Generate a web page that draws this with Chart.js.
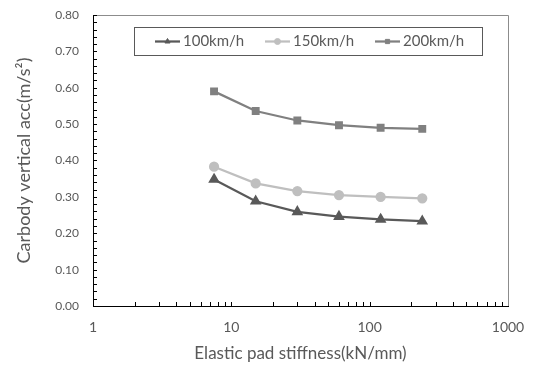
<!DOCTYPE html>
<html>
<head>
<meta charset="utf-8">
<script src="https://cdn.jsdelivr.net/npm/chart.js@4/dist/chart.umd.min.js"></script>
<style>
html,body{margin:0;padding:0;background:#fff;}
#wrap{width:535px;height:367px;position:relative;}
</style>
</head>
<body>
<div id="wrap"><canvas id="c" width="535" height="367"></canvas></div>
<script>
const stiffness = [7.5, 15, 30, 60, 120, 240];
const seriesNames = ['100km/h', '150km/h', '200km/h'];
const acc100 = [0.348, 0.288, 0.259, 0.246, 0.238, 0.233];
const acc150 = [0.383, 0.337, 0.316, 0.305, 0.300, 0.296];
const acc200 = [0.590, 0.536, 0.510, 0.497, 0.490, 0.487];
const xTickLabels = [1, 10, 100, 1000];
const yMin = 0, yMax = 0.8, yStep = 0.1, yMinorStep = 0.02;
const xMinorTicks = [2,3,4,5,6,7,8,9,10,20,30,40,50,60,70,80,90,100,200,300,400,500,600,700,800,900];

const FONT = 'Lato';
const TXT = '#595959';

function pts(ys){ return stiffness.map((x,i)=>({x:x, y:ys[i]})); }

const styles = [
  {color:'#595959', point:'triangle', r:4.5},
  {color:'#bfbfbf', point:'circle', r:4},
  {color:'#808080', point:'rect', r:4}
];
const values = [acc100, acc150, acc200];

const datasets = values.map((v,i)=>({
  label: seriesNames[i],
  data: pts(v),
  borderColor: styles[i].color,
  backgroundColor: styles[i].color,
  pointBackgroundColor: styles[i].color,
  pointBorderColor: styles[i].color,
  pointStyle: styles[i].point,
  pointRadius: styles[i].r,
  borderWidth: 2.25,
  tension: 0
}));

const extras = {
  id: 'extras',
  afterDraw(chart){
    const ctx = chart.ctx;
    const a = chart.chartArea;
    const xs = chart.scales.x, ys = chart.scales.y;
    ctx.save();
    // top & right border
    ctx.strokeStyle = '#8c8c8c';
    ctx.lineWidth = 1;
    ctx.beginPath();
    ctx.moveTo(a.left, Math.round(a.top) + 0.5);
    ctx.lineTo(Math.round(a.right) + 0.5, Math.round(a.top) + 0.5);
    ctx.lineTo(Math.round(a.right) + 0.5, a.bottom);
    ctx.stroke();
    // inward ticks
    ctx.strokeStyle = '#000';
    ctx.beginPath();
    for (let v = yMin; v <= yMax + 1e-9; v += yMinorStep) {
      const y = Math.round(ys.getPixelForValue(v)) + 0.5;
      ctx.moveTo(a.left, y);
      ctx.lineTo(a.left + 4, y);
    }
    xMinorTicks.forEach(t=>{
      const x = Math.round(xs.getPixelForValue(t)) + 0.5;
      ctx.moveTo(x, a.bottom);
      ctx.lineTo(x, a.bottom - 4);
    });
    ctx.stroke();
    // legend
    const lx = 134, ly = 27, lw = 348, lh = 28;
    ctx.strokeStyle = '#595959';
    ctx.lineWidth = 1;
    ctx.strokeRect(lx + 0.5, ly + 0.5, lw, lh);
    const itemX = [155, 265, 375];
    const cy = ly + lh/2 + 0.5;
    ctx.font = '15px ' + FONT;
    ctx.textBaseline = 'middle';
    ctx.textAlign = 'left';
    datasets.forEach((d,i)=>{
      const x0 = itemX[i];
      ctx.strokeStyle = d.borderColor;
      ctx.fillStyle = d.borderColor;
      ctx.lineWidth = 2.25;
      ctx.beginPath();
      ctx.moveTo(x0, cy);
      ctx.lineTo(x0 + 25, cy);
      ctx.stroke();
      ctx.lineWidth = 1;
      Chart.helpers.drawPoint(ctx, {pointStyle: d.pointStyle, radius: 3, borderWidth: 1, rotation: 0}, x0 + 12.5, cy);
      ctx.fillStyle = TXT;
      ctx.fillText(d.label, x0 + 28, cy);
    });
    ctx.restore();
  }
};

Chart.defaults.font.family = FONT;
Chart.defaults.color = TXT;

new Chart(document.getElementById('c'), {
  type: 'line',
  data: { datasets: datasets },
  options: {
    responsive: false,
    animation: false,
    layout: { padding: { left: 0, right: 27, top: 15, bottom: 0 } },
    plugins: { legend: { display: false }, tooltip: { enabled: false } },
    scales: {
      x: {
        type: 'logarithmic',
        min: 1, max: 1000,
        grid: { display: false, drawTicks: false },
        border: { display: true, color: '#000', width: 1 },
        afterBuildTicks(scale){ scale.ticks = xTickLabels.map(v=>({value:v})); },
        ticks: {
          padding: 13,
          font: { size: 14, family: FONT },
          color: TXT,
          maxRotation: 0,
          autoSkip: false,
          callback: (v)=> xTickLabels.includes(v) ? String(v) : ''
        },
        title: { display: true, text: 'Elastic pad stiffness(kN/mm)', font: { size: 17, family: FONT }, color: TXT, padding: { top: 0, bottom: 3 } },
        afterFit(scale){ scale.height = 61; scale.paddingLeft = 0; scale.paddingRight = 0; }
      },
      y: {
        min: yMin, max: yMax,
        grid: { display: false, drawTicks: false },
        border: { display: true, color: '#000', width: 1 },
        ticks: {
          stepSize: yStep,
          padding: 14,
          font: { size: 12, family: FONT },
          color: TXT,
          callback: (v)=> Number(v).toFixed(2)
        },
        title: { display: true, text: 'Carbody vertical acc(m/s²)', font: { size: 18, family: FONT }, color: TXT, padding: { top: 13, bottom: 0 } },
        afterFit(scale){ scale.width = 93; scale.paddingTop = 0; scale.paddingBottom = 0; }
      }
    }
  },
  plugins: [extras]
});
</script>
</body>
</html>
